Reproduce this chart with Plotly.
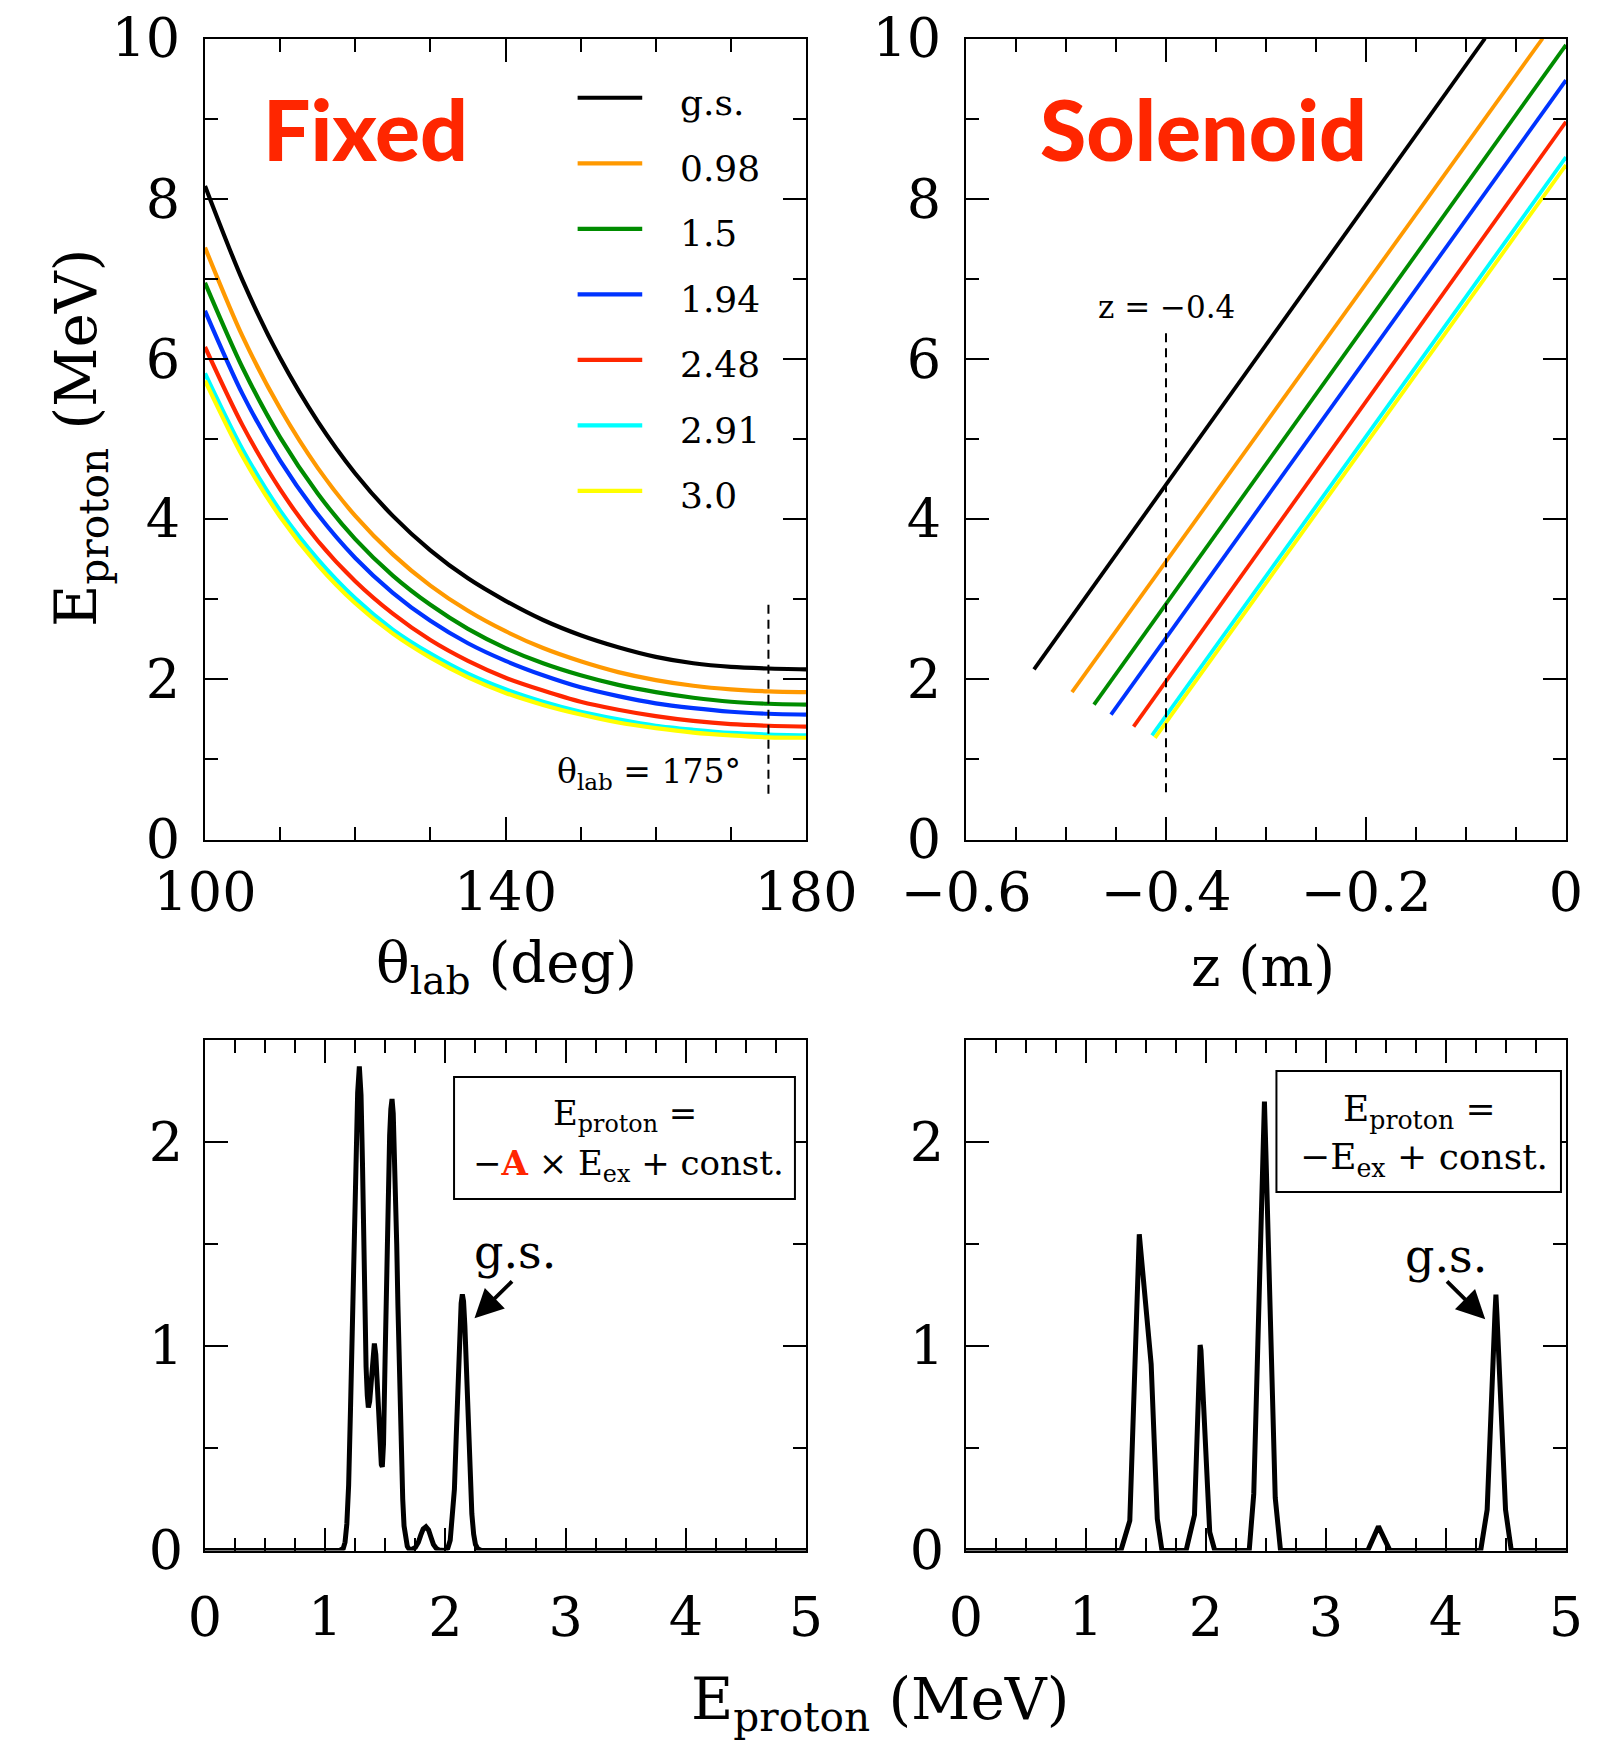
import plotly.graph_objects as go

# ---------------- data ----------------
# Proton energy vs. lab angle (fixed target) for each final state
theta_deg = [100, 105, 110, 115, 120, 125, 130, 135, 140, 145, 150, 155, 160, 165, 170, 175, 180]
state_labels = ["g.s.", "0.98", "1.5", "1.94", "2.48", "2.91", "3.0"]
ep_gs = [8.16, 6.98, 6.01, 5.22, 4.57, 4.04, 3.61, 3.26, 2.98, 2.74, 2.55, 2.40, 2.28, 2.20, 2.155, 2.135, 2.125]
ep_098 = [7.39, 6.28, 5.38, 4.64, 4.04, 3.56, 3.17, 2.855, 2.60, 2.39, 2.225, 2.09, 1.99, 1.92, 1.875, 1.85, 1.84]
ep_150 = [6.95, 5.89, 5.02, 4.32, 3.75, 3.295, 2.93, 2.63, 2.39, 2.20, 2.05, 1.93, 1.84, 1.77, 1.72, 1.695, 1.685]
ep_194 = [6.60, 5.56, 4.73, 4.06, 3.515, 3.08, 2.73, 2.45, 2.23, 2.05, 1.90, 1.79, 1.70, 1.64, 1.595, 1.57, 1.56]
ep_248 = [6.15, 5.17, 4.37, 3.73, 3.225, 2.82, 2.49, 2.23, 2.02, 1.86, 1.72, 1.62, 1.54, 1.48, 1.44, 1.42, 1.41]
ep_291 = [5.82, 4.87, 4.105, 3.50, 3.01, 2.62, 2.32, 2.07, 1.875, 1.72, 1.595, 1.50, 1.42, 1.37, 1.33, 1.31, 1.30]
ep_300 = [5.73, 4.785, 4.03, 3.43, 2.95, 2.57, 2.27, 2.025, 1.83, 1.68, 1.56, 1.46, 1.39, 1.335, 1.30, 1.275, 1.27]
fixed_curves = [ep_gs, ep_098, ep_150, ep_194, ep_248, ep_291, ep_300]

# Proton energy vs. detection position z (solenoid): straight lines, start/end points
sol_z_start = [-0.532, -0.494, -0.472, -0.455, -0.4324, -0.414, -0.411]
sol_e_start = [2.125, 1.84, 1.685, 1.56, 1.41, 1.30, 1.27]
sol_z_end = [-0.081, -0.0234, 0.0, 0.0, 0.0, 0.0, 0.0]
sol_e_end = [10.0, 10.0, 9.92, 9.48, 8.96, 8.52, 8.42]

# Proton energy spectrum, fixed target at 175 deg
fix_spec_e = [0.0, 1.12, 1.15, 1.165, 1.18, 1.195, 1.21, 1.225, 1.24, 1.255, 1.27, 1.284,
              1.298, 1.31, 1.32, 1.33, 1.34, 1.35, 1.359, 1.37, 1.384, 1.397, 1.409, 1.421,
              1.434, 1.446, 1.458, 1.467, 1.475, 1.485, 1.498, 1.508, 1.517, 1.527, 1.536,
              1.546, 1.556, 1.566, 1.575, 1.585, 1.595, 1.605, 1.614, 1.624, 1.634, 1.645,
              1.656, 1.67, 1.683, 1.70, 1.72, 1.75, 1.775, 1.795, 1.815, 1.838, 1.86, 1.88,
              1.90, 1.925, 1.95, 1.99, 2.02, 2.04, 2.06, 2.075, 2.09, 2.105, 2.12, 2.131,
              2.141, 2.151, 2.162, 2.175, 2.19, 2.205, 2.22, 2.235, 2.25, 2.27, 2.30, 5.0]
fix_spec_counts = [0.0, 0.0, 0.01, 0.04, 0.13, 0.32, 0.68, 1.12, 1.58, 1.96, 2.24, 2.37,
                   2.23, 1.90, 1.45, 1.13, 0.90, 0.76, 0.70, 0.73, 0.86, 0.98, 1.013, 0.96,
                   0.82, 0.64, 0.48, 0.42, 0.41, 0.52, 0.93, 1.28, 1.60, 1.85, 2.03,
                   2.16, 2.21, 2.14, 1.99, 1.76, 1.50, 1.20, 0.93, 0.66, 0.44, 0.25,
                   0.12, 0.05, 0.02, 0.005, 0.005, 0.015, 0.04, 0.075, 0.105, 0.116, 0.10, 0.065,
                   0.03, 0.01, 0.002, 0.0, 0.012, 0.05, 0.16, 0.30, 0.556, 0.84, 1.09, 1.21,
                   1.254, 1.22, 1.10, 0.87, 0.58, 0.34, 0.18, 0.08, 0.03, 0.008, 0.0, 0.0]

# Proton energy spectrum, solenoid at z = -0.4 m
sol_spec_e = [0.0, 1.291, 1.365, 1.444, 1.543, 1.594, 1.633,
              1.834, 1.904, 1.945, 1.951, 1.958, 2.031, 2.073,
              2.360, 2.398, 2.474, 2.487, 2.499, 2.577, 2.621,
              3.348, 3.437, 3.533,
              4.289, 4.343, 4.408, 4.416, 4.424, 4.496, 4.544, 5.0]
sol_spec_counts = [0.0, 0.0, 0.146, 1.548, 0.912, 0.155, 0.0,
                   0.0, 0.174, 0.98, 1.006, 0.98, 0.09, 0.0,
                   0.0, 0.277, 1.90, 2.198, 1.95, 0.258, 0.0,
                   0.0, 0.118, 0.0,
                   0.0, 0.20, 1.16, 1.252, 1.16, 0.20, 0.0, 0.0]

# ---------------- styling ----------------
W, H = 1620, 1740
state_colors = ["#000000", "#FF9900", "#008C00", "#0033FF", "#FF2600", "#00FFFF", "#FFFF00"]
SERIF = "DejaVu Serif"
RED = "#FF2600"


def px(x):
    return x / W


def py(y):
    return 1 - y / H


LEFT_X = [px(205), px(806)]
RIGHT_X = [px(966), px(1566)]
TOP_Y = [py(839.5), py(38.5)]
BOT_Y = [py(1550.5), py(1039.8)]


def axis(domain, anchor, rng, major, minor, ticklen=23, minorlen=13, standoff=0, **kw):
    d = dict(
        domain=domain, anchor=anchor, range=rng, automargin=False,
        showline=True, linecolor="black", linewidth=2, mirror="ticks",
        ticks="inside", ticklen=ticklen, tickwidth=1.6, tickcolor="black",
        showgrid=False, zeroline=False,
        tickfont=dict(family=SERIF, size=54, color="black"),
        tick0=rng[0], dtick=major,
        minor=dict(ticks="inside", ticklen=minorlen, tickwidth=1.6, tickcolor="black",
                   tick0=rng[0], dtick=minor, showgrid=False),
        ticklabelstandoff=standoff,
    )
    d.update(kw)
    return d


fig = go.Figure()

# Top-left: fixed target kinematics
for label, color, ep in zip(state_labels, state_colors, fixed_curves):
    fig.add_trace(go.Scatter(x=theta_deg, y=ep, mode="lines", name=label,
                             line=dict(color=color, width=4.2, shape="spline", smoothing=0.8),
                             xaxis="x", yaxis="y", showlegend=False))

# Top-right: solenoid kinematics
for i, color in enumerate(state_colors):
    fig.add_trace(go.Scatter(x=[sol_z_start[i], sol_z_end[i]], y=[sol_e_start[i], sol_e_end[i]],
                             mode="lines", line=dict(color=color, width=3.8),
                             xaxis="x2", yaxis="y2", showlegend=False))

# Bottom: spectra
fig.add_trace(go.Scatter(x=fix_spec_e, y=fix_spec_counts, mode="lines",
                         line=dict(color="black", width=5),
                         xaxis="x3", yaxis="y3", showlegend=False))
fig.add_trace(go.Scatter(x=sol_spec_e, y=sol_spec_counts, mode="lines",
                         line=dict(color="black", width=5),
                         xaxis="x4", yaxis="y4", showlegend=False))

shapes = []
annotations = []

# in-plot legend for the fixed-target panel
leg_top, leg_step = 9.26, 0.818
for i, (label, color) in enumerate(zip(state_labels, state_colors)):
    yy = leg_top - i * leg_step
    shapes.append(dict(type="line", xref="x", yref="y", x0=149.6, x1=158.2, y0=yy, y1=yy,
                       line=dict(color=color, width=4.2)))
    annotations.append(dict(xref="x", yref="y", x=163.0, y=yy - 0.06, text=label,
                            showarrow=False, xanchor="left", yanchor="middle",
                            font=dict(family=SERIF, size=36, color="black")))

# dashed markers
shapes.append(dict(type="line", xref="x", yref="y", x0=175, x1=175, y0=0.57, y1=3.0,
                   line=dict(color="black", width=2, dash="9px,6px")))
shapes.append(dict(type="line", xref="x2", yref="y2", x0=-0.4, x1=-0.4, y0=0.59, y1=6.34,
                   line=dict(color="black", width=2, dash="9px,6px")))

annotations.append(dict(xref="x", yref="y", x=171.6, y=0.82, text="θ<sub>lab</sub> = 175°",
                        showarrow=False, xanchor="right", yanchor="middle",
                        font=dict(family=SERIF, size=33, color="black")))
annotations.append(dict(xref="x2", yref="y2", x=-0.4, y=6.65, text="z = −0.4",
                        showarrow=False, xanchor="center", yanchor="middle",
                        font=dict(family=SERIF, size=31, color="black")))

# panel tags
tag_font = dict(family="Lato", size=84, color=RED, weight=900)
annotations.append(dict(xref="paper", yref="paper", x=px(365), y=py(128), text="Fixed",
                        showarrow=False, xanchor="center", yanchor="middle", font=tag_font))
annotations.append(dict(xref="paper", yref="paper", x=px(1203), y=py(128), text="Solenoid",
                        showarrow=False, xanchor="center", yanchor="middle", font=tag_font))

# axis titles
xtitle_font = dict(family=SERIF, size=56, color="black")
etitle_font = dict(family=SERIF, size=58, color="black")
annotations.append(dict(xref="paper", yref="paper", x=px(507), y=py(966),
                        text="θ<sub>lab</sub> (deg)", showarrow=False,
                        xanchor="center", yanchor="middle", font=xtitle_font))
annotations.append(dict(xref="paper", yref="paper", x=px(1263), y=py(966),
                        text="z (m)", showarrow=False,
                        xanchor="center", yanchor="middle", font=xtitle_font))
annotations.append(dict(xref="paper", yref="paper", x=px(80), y=py(438),
                        text="E<sub>proton</sub> (MeV)", showarrow=False, textangle=-90,
                        xanchor="center", yanchor="middle", font=etitle_font))
annotations.append(dict(xref="paper", yref="paper", x=px(880), y=py(1703),
                        text="E<sub>proton</sub> (MeV)", showarrow=False,
                        xanchor="center", yanchor="middle", font=etitle_font))

# formula boxes
shapes.append(dict(type="rect", xref="x3", yref="y3", x0=2.072, x1=4.908, y0=1.721, y1=2.318,
                   line=dict(color="black", width=2), fillcolor="white", layer="above"))
shapes.append(dict(type="rect", xref="x4", yref="y4", x0=2.587, x1=4.958, y0=1.755, y1=2.347,
                   line=dict(color="black", width=2), fillcolor="white", layer="above"))
box_font = dict(family=SERIF, size=36, color="black")
box_font_small = dict(family=SERIF, size=34, color="black")
annotations.append(dict(xref="x3", yref="y3", x=3.494, y=2.131, text="E<sub>proton</sub> =",
                        showarrow=False, xanchor="center", yanchor="middle", font=box_font_small))
annotations.append(dict(xref="x3", yref="y3", x=3.523, y=1.887,
                        text="−<b><span style='color:#FF2600'>A</span></b> × E<sub>ex</sub> + const.",
                        showarrow=False, xanchor="center", yanchor="middle", font=box_font_small))
annotations.append(dict(xref="x4", yref="y4", x=3.78, y=2.151, text="E<sub>proton</sub> =",
                        showarrow=False, xanchor="center", yanchor="middle", font=box_font))
annotations.append(dict(xref="x4", yref="y4", x=3.815, y=1.916,
                        text="−E<sub>ex</sub> + const.",
                        showarrow=False, xanchor="center", yanchor="middle", font=box_font))

# ground-state pointers
gs_font = dict(family=SERIF, size=46, color="black")
annotations.append(dict(xref="x3", yref="y3", x=2.583, y=1.46, text="g.s.",
                        showarrow=False, xanchor="center", yanchor="middle", font=gs_font))
annotations.append(dict(xref="x3", yref="y3", axref="x3", ayref="y3",
                        x=2.242, y=1.137, ax=2.567, ay=1.325, text="",
                        showarrow=True, arrowhead=2, arrowsize=1.5, arrowwidth=3.8,
                        arrowcolor="black"))
annotations.append(dict(xref="x4", yref="y4", x=4.00, y=1.44, text="g.s.",
                        showarrow=False, xanchor="center", yanchor="middle", font=gs_font))
annotations.append(dict(xref="x4", yref="y4", axref="x4", ayref="y4",
                        x=4.327, y=1.132, ax=3.996, ay=1.325, text="",
                        showarrow=True, arrowhead=2, arrowsize=1.5, arrowwidth=3.8,
                        arrowcolor="black"))

fig.update_layout(
    width=W, height=H,
    margin=dict(l=0, r=0, t=0, b=0, pad=0, autoexpand=False),
    paper_bgcolor="white", plot_bgcolor="white",
    showlegend=False,
    xaxis=axis(LEFT_X, "y", [100, 180], 40, 10, standoff=5),
    yaxis=axis(TOP_Y, "x", [0, 10], 2, 1, standoff=12),
    xaxis2=axis(RIGHT_X, "y2", [-0.6, 0], 0.2, 0.05, standoff=5,
                tickmode="array", tickvals=[-0.6, -0.4, -0.2, 0],
                ticktext=["−0.6", "−0.4", "−0.2", "0"]),
    yaxis2=axis(TOP_Y, "x2", [0, 10], 2, 1, standoff=12),
    xaxis3=axis(LEFT_X, "y3", [0, 5], 1, 0.25, standoff=19),
    yaxis3=axis(BOT_Y, "x3", [0, 2.5], 1, 0.5, standoff=9),
    xaxis4=axis(RIGHT_X, "y4", [0, 5], 1, 0.25, standoff=19),
    yaxis4=axis(BOT_Y, "x4", [0, 2.5], 1, 0.5, standoff=9),
    shapes=shapes,
    annotations=annotations,
)

fig.write_html("out.html")
